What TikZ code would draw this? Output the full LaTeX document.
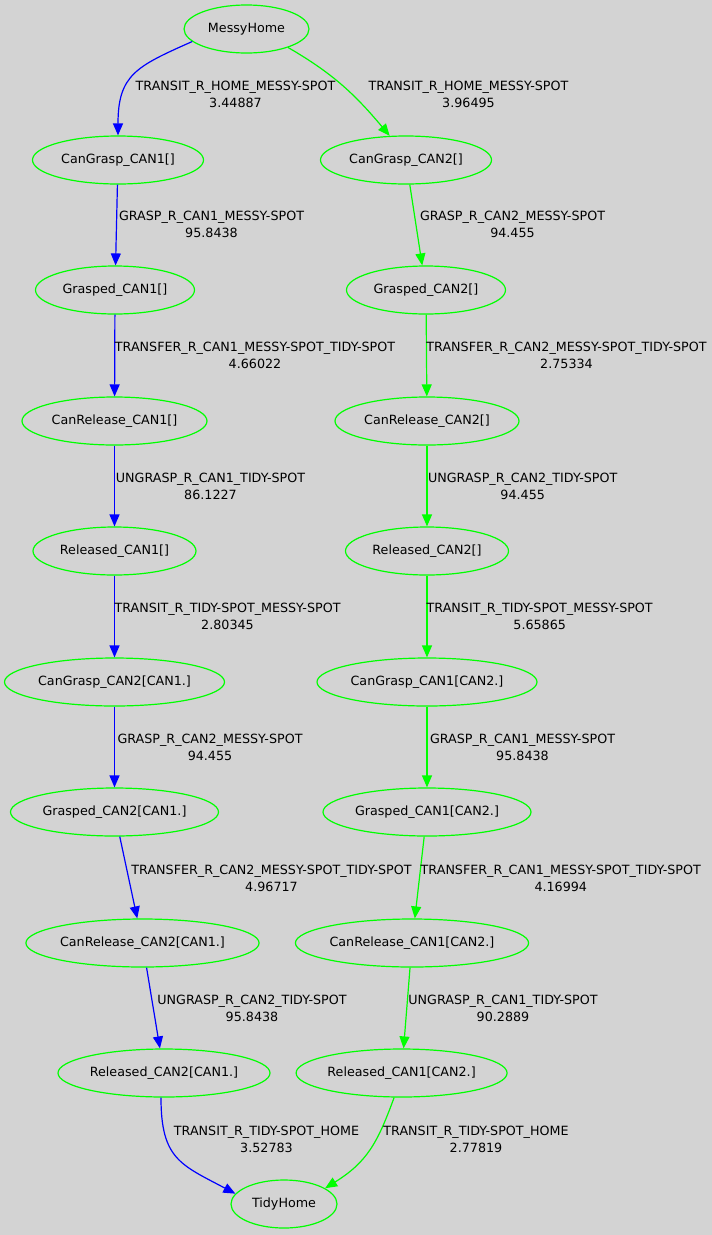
\documentclass[tikz,border=0pt]{standalone}
\usepackage{fontspec}
\setmainfont{DejaVu Sans}
\usetikzlibrary{arrows.meta,shapes.geometric}
\definecolor{bggray}{RGB}{211,211,211}
\definecolor{stategreen}{RGB}{0,255,0}
\definecolor{planblue}{RGB}{0,0,255}

\begin{document}
\begin{tikzpicture}[x=1pt, y=1pt,
		font=\fontsize{12.7}{17}\selectfont,
		state/.style={ellipse, draw=stategreen, line width=1.2pt, minimum height=48pt, inner sep=0pt},
		cost/.style={align=center, inner sep=0pt},
		planedge/.style={line width=1.2pt, -{Triangle[length=12pt,width=10pt]}},
		blueedge/.style={planedge, draw=planblue},
		greenedge/.style={planedge, draw=stategreen}]
			% Background
			\useasboundingbox (0,0) rectangle (712,-1235);
			\fill[bggray] (0,0) rectangle (712,-1235);
			
			% Start
			\node[state, minimum width=125pt] (mh) at (246.5,-29) {MessyHome};
			
			% Left plan
			\node[state, minimum width=171pt] (cg1) at (118,-160) {CanGrasp\_CAN1[]};
			\node[state, minimum width=159pt] (g1) at (115,-290) {Grasped\_CAN1[]};
			\node[state, minimum width=185pt] (cr1) at (114.5,-421) {CanRelease\_CAN1[]};
			\node[state, minimum width=163pt] (r1) at (114.5,-551) {Released\_CAN1[]};
			\node[state, minimum width=220pt] (cg21) at (114.5,-682) {CanGrasp\_CAN2[CAN1.]};
			\node[state, minimum width=208pt] (g21) at (114.5,-812) {Grasped\_CAN2[CAN1.]};
			\node[state, minimum width=232pt] (cr21) at (142.5,-943) {CanRelease\_CAN2[CAN1.]};
			\node[state, minimum width=212pt] (r21) at (164,-1073) {Released\_CAN2[CAN1.]};
			
			% Right plan
			\node[state, minimum width=171pt] (cg2) at (406,-160) {CanGrasp\_CAN2[]};
			\node[state, minimum width=159pt] (g2) at (426,-290) {Grasped\_CAN2[]};
			\node[state, minimum width=184pt] (cr2) at (427,-421) {CanRelease\_CAN2[]};
			\node[state, minimum width=163pt] (r2) at (427,-551) {Released\_CAN2[]};
			\node[state, minimum width=220pt] (cg12) at (427,-682) {CanGrasp\_CAN1[CAN2.]};
			\node[state, minimum width=208pt] (g12) at (427,-812) {Grasped\_CAN1[CAN2.]};
			\node[state, minimum width=232pt] (cr12) at (412,-943) {CanRelease\_CAN1[CAN2.]};
			\node[state, minimum width=211pt] (r12) at (401.6,-1073) {Released\_CAN1[CAN2.]};
			
			% Goal
			\node[state, minimum width=106pt] (th) at (284,-1204) {TidyHome};
			
			% Left edges
			\draw[blueedge] (mh.193) to[out=204, in=90, looseness=1.3] (cg1.north);
			\draw[blueedge] (cg1) -- (g1);
			\draw[blueedge] (g1) -- (cr1);
			\draw[blueedge] (cr1) -- (r1);
			\draw[blueedge] (r1) -- (cg21);
			\draw[blueedge] (cg21) -- (g21);
			\draw[blueedge] (g21) -- (cr21);
			\draw[blueedge] (cr21) -- (r21);
			\draw[blueedge] (r21.263) to[out=-90, in=152, looseness=1.3] (th.168);
			
			% Right edges
			\draw[greenedge] (mh.-24) to[out=-30, in=130] (cg2.124);
			\draw[greenedge] (cg2) -- (g2);
			\draw[greenedge] (g2) -- (cr2);
			\draw[greenedge] (cr2) -- (r2);
			\draw[greenedge] (r2) -- (cg12);
			\draw[greenedge] (cg12) -- (g12);
			\draw[greenedge] (g12) -- (cr12);
			\draw[greenedge] (cr12) -- (r12);
			\draw[greenedge] (r12.253) to[out=250, in=32, looseness=1.1] (th.21);
			
			% Left labels
			\node[cost] (lmh1) at (235.5,-94) {TRANSIT\_R\_HOME\_MESSY-SPOT\\3.44887};
			\node[cost] (lcg1) at (211.5,-224.5) {GRASP\_R\_CAN1\_MESSY-SPOT\\95.8438};
			\node[cost] (lg1) at (255,-355.5) {TRANSFER\_R\_CAN1\_MESSY-SPOT\_TIDY-SPOT\\4.66022};
			\node[cost] (lcr1) at (210.5,-486) {UNGRASP\_R\_CAN1\_TIDY-SPOT\\86.1227};
			\node[cost] (lr1) at (227.5,-616) {TRANSIT\_R\_TIDY-SPOT\_MESSY-SPOT\\2.80345};
			\node[cost] (lcg21) at (210,-747) {GRASP\_R\_CAN2\_MESSY-SPOT\\94.455};
			\node[cost] (lg21) at (271.5,-878) {TRANSFER\_R\_CAN2\_MESSY-SPOT\_TIDY-SPOT\\4.96717};
			\node[cost] (lcr21) at (252,-1008.5) {UNGRASP\_R\_CAN2\_TIDY-SPOT\\95.8438};
			\node[cost] (lr21) at (266.5,-1139) {TRANSIT\_R\_TIDY-SPOT\_HOME\\3.52783};
			
			% Right labels
			\node[cost] (lmh2) at (468.5,-94) {TRANSIT\_R\_HOME\_MESSY-SPOT\\3.96495};
			\node[cost] (lcg2) at (512.5,-224.5) {GRASP\_R\_CAN2\_MESSY-SPOT\\94.455};
			\node[cost] (lg2) at (566.5,-355.5) {TRANSFER\_R\_CAN2\_MESSY-SPOT\_TIDY-SPOT\\2.75334};
			\node[cost] (lcr2) at (522.7,-486) {UNGRASP\_R\_CAN2\_TIDY-SPOT\\94.455};
			\node[cost] (lr2) at (539.7,-616) {TRANSIT\_R\_TIDY-SPOT\_MESSY-SPOT\\5.65865};
			\node[cost] (lcg12) at (522.5,-747) {GRASP\_R\_CAN1\_MESSY-SPOT\\95.8438};
			\node[cost] (lg12) at (560.8,-878) {TRANSFER\_R\_CAN1\_MESSY-SPOT\_TIDY-SPOT\\4.16994};
			\node[cost] (lcr12) at (503,-1008.5) {UNGRASP\_R\_CAN1\_TIDY-SPOT\\90.2889};
			\node[cost] (lr12) at (476,-1139) {TRANSIT\_R\_TIDY-SPOT\_HOME\\2.77819};
			
		\end{tikzpicture}
\end{document}
